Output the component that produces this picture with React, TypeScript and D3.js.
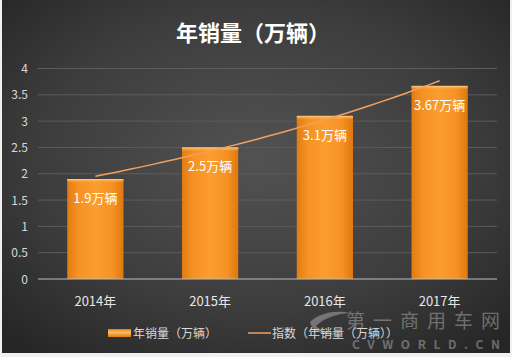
import React from "react";
import * as d3 from "d3";

const categories = ["2014年", "2015年", "2016年", "2017年"];
const sales = [1.9, 2.5, 3.1, 3.67];
const barLabels = ["1.9万辆", "2.5万辆", "3.1万辆", "3.67万辆"];
const yTicks = [0, 0.5, 1, 1.5, 2, 2.5, 3, 3.5, 4];
const title = "年销量（万辆）";
const legendBar = "年销量（万辆）";
const legendLine = "指数（年销量（万辆））";

const W = 512;
const H = 357;
const FONT = "'Noto Sans CJK SC', 'Noto Sans', sans-serif";

export default function App() {
  const x = d3.scaleBand<string>().domain(categories).range([38, 497]).paddingInner(0.51).paddingOuter(0.255);
  const y = d3.scaleLinear().domain([0, 4]).range([279, 68.5]);

  // exponential trendline fit (like Excel's "指数" trendline)
  const xs = sales.map((_, i) => i + 1);
  const ly = sales.map((v) => Math.log(v));
  const mx = d3.mean(xs)!;
  const my = d3.mean(ly)!;
  const b = d3.sum(xs.map((xi, i) => (xi - mx) * (ly[i] - my))) / d3.sum(xs.map((xi) => (xi - mx) ** 2));
  const a = my - b * mx;
  const center = (i: number) => x(categories[i])! + x.bandwidth() / 2;
  const step = center(1) - center(0);
  const trendPts: [number, number][] = d3.range(0, 31).map((k) => {
    const t = 1 + (3 * k) / 30;
    return [center(0) + (t - 1) * step, y(Math.exp(a + b * t))];
  });
  const line = d3.line<[number, number]>().x((d) => d[0]).y((d) => d[1]);

  return (
    <svg width={W} height={H} style={{ position: "absolute", left: 0, top: 0 }}>
      <defs>
        <radialGradient id="bg" cx="50%" cy="45%" r="70%">
          <stop offset="0%" stopColor="#525252" />
          <stop offset="60%" stopColor="#3d3d3d" />
          <stop offset="100%" stopColor="#262626" />
        </radialGradient>
        <linearGradient id="barG" x1="0" x2="1" y1="0" y2="0">
          <stop offset="0%" stopColor="#e27c12" />
          <stop offset="20%" stopColor="#f69224" />
          <stop offset="50%" stopColor="#fb9d2e" />
          <stop offset="80%" stopColor="#f69224" />
          <stop offset="100%" stopColor="#de7810" />
        </linearGradient>
        <linearGradient id="barTop" x1="0" x2="0" y1="0" y2="1">
          <stop offset="0%" stopColor="#ffd08a" />
          <stop offset="100%" stopColor="#f99a2c" stopOpacity="0" />
        </linearGradient>
        <linearGradient id="legG" x1="0" x2="0" y1="0" y2="1">
          <stop offset="0%" stopColor="#e07a12" />
          <stop offset="40%" stopColor="#ffc060" />
          <stop offset="100%" stopColor="#e07a12" />
        </linearGradient>
      </defs>
      <rect x={0} y={0} width={W} height={H} fill="#f0f0f0" />
      <rect x={2} y={0} width={508} height={353} fill="url(#bg)" />

      <text x={253} y={41} textAnchor="middle" fill="#ffffff" fontFamily={FONT} fontWeight="bold" fontSize={22}>
        {title}
      </text>

      {yTicks.map((t) => (
        <g key={t}>
          {t > 0 && <line x1={38} x2={497} y1={y(t)} y2={y(t)} stroke="#5c5c5c" strokeWidth={1} />}
          <text x={28} y={y(t) + 4.5} textAnchor="end" fill="#d9d9d9" fontFamily={FONT} fontSize={12}>
            {t}
          </text>
        </g>
      ))}

      {sales.map((v, i) => (
        <g key={i}>
          <rect x={x(categories[i])} y={y(v)} width={x.bandwidth()} height={y(0) - y(v)} fill="url(#barG)" />
          <rect x={x(categories[i])} y={y(v)} width={x.bandwidth()} height={4} fill="url(#barTop)" />
          <text x={center(i)} y={y(v) + 24} textAnchor="middle" fill="#ffffff" fontFamily={FONT} fontSize={13}>
            {barLabels[i]}
          </text>
        </g>
      ))}

      <line x1={38} x2={497} y1={y(0)} y2={y(0)} stroke="#bdbdbd" strokeWidth={1} />

      <path d={line(trendPts)!} fill="none" stroke="#f0a060" strokeWidth={1.5} />

      {categories.map((c, i) => (
        <text key={c} x={center(i)} y={306} textAnchor="middle" fill="#e6e6e6" fontFamily={FONT} fontSize={13}>
          {c}
        </text>
      ))}

      {/* legend */}
      <rect x={108} y={329} width={23} height={8} fill="url(#legG)" />
      <text x={133} y={338} fill="#d9d9d9" fontFamily={FONT} fontSize={12}>
        {legendBar}
      </text>
      <line x1={248} x2={271} y1={333} y2={333} stroke="#f0a060" strokeWidth={1.5} />
      <text x={272} y={338} fill="#d9d9d9" fontFamily={FONT} fontSize={12}>
        {legendLine}
      </text>

      {/* watermark */}
      <g opacity={0.4} fill="#cfcfcf" fontFamily={FONT}>
        <path d="M310,322 C320,312 338,310 350,313 C336,314 324,318 316,326 C320,330 328,333 338,334 C324,336 312,332 310,322 Z" />
        <text x={346} y={328} fontSize={19} textLength={154} lengthAdjust="spacing">
          第一商用车网
        </text>
        <text x={352} y={349} fontSize={12} fontWeight="bold" textLength={148} lengthAdjust="spacing">
          CVWORLD.CN
        </text>
      </g>
    </svg>
  );
}
